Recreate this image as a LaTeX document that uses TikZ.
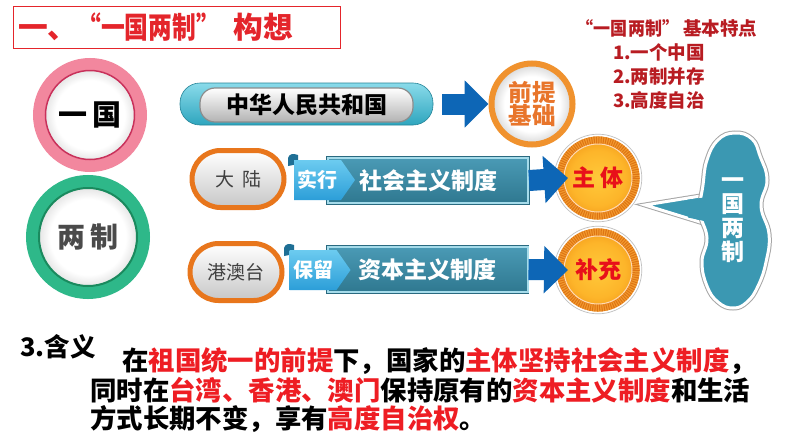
\documentclass[tikz,border=0pt]{standalone}
\usepackage{fontspec}
\usepackage{graphicx}
\setmainfont{Noto Sans CJK SC}
\usetikzlibrary{arrows.meta,shapes.misc,shapes.symbols,calc}
\definecolor{titlered}{HTML}{E4252B}
\definecolor{darkred}{HTML}{B81C22}
\definecolor{bred}{HTML}{EE1D23}
\definecolor{zred}{HTML}{E8101A}
\definecolor{pinkring}{HTML}{F2879E}
\definecolor{pinkdark}{HTML}{C9305A}
\definecolor{greenring}{HTML}{2EB889}
\definecolor{greendark}{HTML}{1A8A5E}
\definecolor{tealtop}{HTML}{8ADBEA}
\definecolor{tealbot}{HTML}{2EA5BE}
\definecolor{arrowblue}{HTML}{0D66B6}
\definecolor{pillorange}{HTML}{E8761C}
\definecolor{qtorange}{HTML}{F0922E}
\definecolor{qttext}{HTML}{E8752B}
\definecolor{boxtop}{HTML}{4A9AB5}
\definecolor{boxbot}{HTML}{2F7890}
\definecolor{boxline}{HTML}{A5DBEA}
\definecolor{boxdark}{HTML}{2A6A80}
\definecolor{tagtop}{HTML}{6CCBF0}
\definecolor{tagbot}{HTML}{2C9ED8}
\definecolor{tagdark}{HTML}{1F6F95}
\definecolor{ringorange}{HTML}{F29A2E}
\definecolor{stripeorange}{HTML}{DE7414}
\definecolor{orA}{HTML}{F6A21E}
\definecolor{orB}{HTML}{FDB52A}
\definecolor{orC}{HTML}{FFC93A}
\definecolor{cloudc}{HTML}{3B98B2}
\definecolor{pilltext}{HTML}{404040}
\definecolor{greytext}{HTML}{4A4A4A}
\pgfdeclareradialshading{ringin}{\pgfpoint{0bp}{0bp}}{color(0bp)=(white); color(17bp)=(white); color(23bp)=(black!12); color(25bp)=(black!22); color(50bp)=(black!22)}
\pgfdeclareradialshading{orangein}{\pgfpoint{0bp}{0bp}}{color(0bp)=(orC); color(18bp)=(orB); color(25bp)=(orA); color(50bp)=(orA)}
\pgfdeclarelayer{bg}
\pgfsetlayers{bg,main}
\begin{document}
\begin{tikzpicture}[x=1pt,y=-1pt,
  fs/.style={inner sep=0pt, font=\fontsize{#1}{#1}\selectfont\bfseries},
  ls/.style={font=\fontsize{#1}{#1}\selectfont},
  barrow/.style={draw=arrowblue, line width=21pt, -{Triangle[length=24pt,width=46pt]}},
  ringnode/.style={circle, shade, shading=ringin},
  pill/.style={rounded rectangle, minimum width=92pt, minimum height=57pt, draw=pillorange, line width=5pt, top color=white, bottom color=black!22, text=pilltext, inner sep=0pt},
  banner/.style={minimum width=200pt, minimum height=45pt, top color=boxtop, bottom color=boxbot, draw=boxline, line width=2pt, preaction={draw=boxdark, line width=3.5pt}, text=white, inner sep=0pt},
  tag/.style={signal, signal to=east, signal pointer angle=110, minimum width=61pt, minimum height=40pt, top color=tagtop, bottom color=tagbot, text=white, inner sep=0pt},
  orcircle/.style={circle, minimum size=76pt, draw=ringorange, line width=8pt, shade, shading=orangein, text=zred},
  cloudedge/.style={draw=white, line width=3pt, preaction={draw=black!35, line width=5pt}},
]
\useasboundingbox (0,0) rectangle (794,447);
\fill[white] (0,0) rectangle (794,447);

% title
\node[fs=29.7, draw=titlered, line width=1pt, minimum width=327pt, minimum height=42pt, text width=317pt, align=left, text=titlered] (title) at (176.5,27) {\mbox{一、\scalebox{0.8}[1]{“一国两制”}\hspace{14pt}构想}};

% features
\node[fs=18.5, text=darkred] (feat) at (667,28) {\mbox{\scalebox{0.92}[1]{“一国两制”}\hspace{4pt}基本特点}};
\node[fs=18.5, text=darkred, anchor=west] (f1) at (613,52) {1.一个中国};
\node[fs=18.5, text=darkred, anchor=west] (f2) at (613,76) {2.两制并存};
\node[fs=18.5, text=darkred, anchor=west] (f3) at (613,100) {3.高度自治};

% one country circle
\node[ringnode, fs=29, minimum size=102pt, draw=pinkring, line width=12pt, text=black] (yi) at (90,115) {一\hspace{5pt}国\hspace{14pt}};
\draw[pinkdark, line width=1.5pt] (yi.center) circle (44.5);

% two systems circle
\node[ringnode, fs=28, minimum size=111pt, draw=greenring, line width=13pt, text=greytext] (liang) at (88,237) {两\hspace{6pt}制};
\draw[greendark, line width=2pt] (liang.center) circle (49);

% teal bar
\node[rounded corners=20pt, minimum width=253pt, minimum height=42pt, top color=tealtop, bottom color=tealbot, draw=tealbot!80!black, line width=0.6pt] (bar) at (306.5,104) {};
\node[fs=23, rounded corners=15pt, minimum width=213pt, minimum height=34pt, top color=white, bottom color=black!30, draw=black!45, line width=1.2pt] (zh) at (306.5,105) {中华人民共和国\hspace{12pt}};

% premise circle
\node[ringnode, minimum size=81pt, draw=qtorange, line width=6pt, text=qttext, align=center, inner sep=0pt, font=\fontsize{23.5}{21.5}\selectfont\bfseries] (qt) at (532,104) {前提\\基础};

% pills
\node[pill, ls=19] (dalu) at (238,179) {大\hspace{8pt}陆};
\node[pill, ls=19] (gat) at (236,272) {港澳台};

% banner boxes
\node[banner, fs=23] (shbox) at (428,180.5) {社会主义制度};
\node[banner, fs=23] (zbbox) at (427.5,269.5) {资本主义制度};
\fill[tagdark] (288,166) -- (288,158) .. controls (289,154) and (293,153) .. (298,155) -- (298,164) -- cycle;
\fill[tagdark] (284,256) -- (284,248) .. controls (285,244) and (289,243) .. (294,245) -- (294,254) -- cycle;
\node[tag, fs=20] (t1) at (317.5,180) {实行\hspace{6pt}};
\node[tag, fs=20] (t2) at (313,270) {保留\hspace{6pt}};

% orange circles
\node[orcircle, fs=23] (zt) at (598,178) {主\hspace{5pt}体};
\node[orcircle, fs=23] (bc) at (598,270) {补充};
\foreach \c in {zt,bc}{
  \draw[stripeorange, line width=8pt, dash pattern=on 1pt off 1.3pt] (\c.center) circle (38);
  \draw[white!70!orange, line width=1pt] (\c.center) circle (34);
  \draw[white, line width=1.6pt] (\c.center) circle (42.6);
  \draw[black!25, line width=0.7pt] (\c.center) circle (43.8);
}

% arrows
\begin{pgfonlayer}{bg}
\draw[barrow] (liang.center) -- (dalu.west);
\draw[barrow] (liang.center) -- (gat.west);
\end{pgfonlayer}
\draw[barrow] ([xshift=9pt]bar.east) -- (qt.west);
\draw[barrow] (shbox.east) -- ([xshift=12pt]zt.west);
\draw[barrow] (zbbox.east) -- ([xshift=12pt]bc.west);

% cloud callout
\coordinate (ptip) at (645,205);
\filldraw[fill=cloudc, cloudedge] (ptip) -- (713,194) -- (713,226) -- cycle;
\filldraw[fill=cloudc, cloudedge] plot[smooth cycle, tension=0.75] coordinates {
  (735,133) (752,139) (760,156) (767,180) (761,206) (769,234) (766,262) (758,286)
  (747,302) (733,308) (718,302) (707,286) (702,262) (707,238) (700,212) (703,185)
  (707,160) (718,140)};
\fill[cloudc] (688,199.8) -- (718,195.5) -- (718,224) -- (688,217.5) -- cycle;
\node[text=white, align=center, inner sep=0pt, font=\fontsize{23}{24}\selectfont\bfseries] (cloud) at (733,220) {一\\国\\两\\制};

% meaning text
\node[fs=25.5, anchor=west, text=black] (hy) at (20,347) {3.含义};
\node[fs=26.4, anchor=west, text=black] (l1) at (122,361) {在\textcolor{bred}{祖国统一的前提}下，国家的\textcolor{bred}{主体坚持社会主义制度}，};
\node[fs=26.4, anchor=west, text=black] (l2) at (90,390) {同时在\textcolor{bred}{台湾、香港、澳门}保持原有的\textcolor{bred}{资本主义制度}和生活};
\node[fs=26.4, anchor=west, text=black] (l3) at (90,419) {方式长期不变，享有\textcolor{bred}{高度自治权}。};
\end{tikzpicture}
\end{document}
